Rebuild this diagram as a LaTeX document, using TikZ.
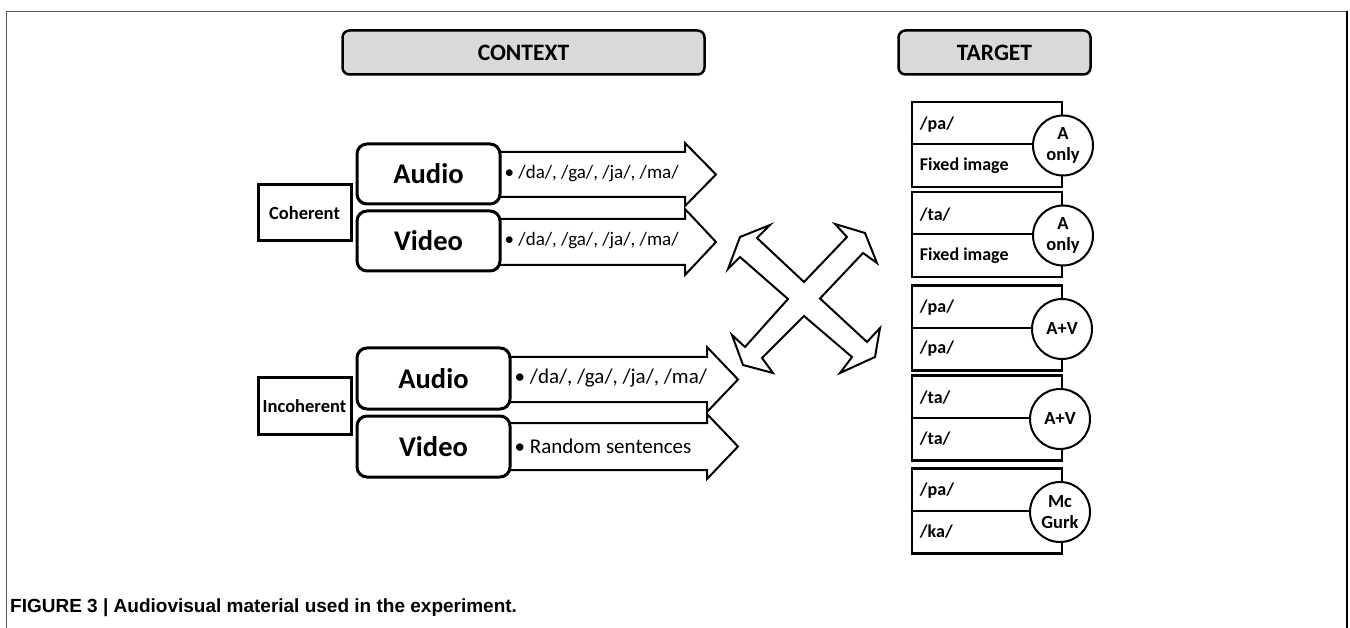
\documentclass[tikz,border=0pt]{standalone}
\usepackage{fontspec}
\setmainfont{Carlito}
\newfontfamily\capfont{Liberation Sans}
\newcommand{\fs}[1]{\fontsize{#1}{#1}\selectfont}
\begin{document}
\begin{tikzpicture}[x=1pt,y=-1pt,
  hdr/.style={draw, line width=2.5pt, rounded corners=7pt, fill=black!15, font=\bfseries\fs{23.5}, inner sep=0pt},
  cond/.style={draw, line width=3pt, fill=white, font=\bfseries\fs{18.5}, minimum width=93pt, minimum height=56pt, inner sep=0pt},
  modbox/.style={draw, line width=3pt, rounded corners=10pt, fill=white, font=\bfseries\fs{28.5}, inner sep=0pt},
  fatarrow/.style={draw, line width=2pt, fill=white, line join=miter},
  atext/.style={anchor=west, inner sep=0pt},
  tbox/.style={draw, line width=2.5pt, fill=white, minimum width=150pt, minimum height=85pt, inner sep=0pt},
  tcirc/.style={circle, draw, line width=2pt, fill=white, minimum size=60pt, inner sep=0pt, font=\bfseries\fontsize{18.5}{21}\selectfont, align=center},
  ttext/.style={anchor=west, inner sep=0pt, font=\bfseries\fs{18}},
  divline/.style={line width=2pt}
]
\useasboundingbox (0,0) rectangle (1350,628);
\fill[white] (0,0) rectangle (1350,628);
% frame
\draw[black!65, line width=1.5pt] (6.5,628) -- (6.5,11.5) -- (1347,11.5);
\draw[black, line width=2pt] (1347,11.5) -- (1347,628);

% headers
\node[hdr, minimum width=362pt, minimum height=44pt] (context) at (523.5,52.5) {CONTEXT};
\node[hdr, minimum width=192pt, minimum height=44pt] (target) at (994.5,52.5) {TARGET};

% fat arrows (drawn before boxes)
\draw[fatarrow] (490,152) -- (685,152) -- (685,143) -- (716,174.5) -- (685,206) -- (685,197) -- (490,197) -- cycle;
\draw[fatarrow] (490,219) -- (685,219) -- (685,209) -- (716,242) -- (685,275) -- (685,265) -- (490,265) -- cycle;
\draw[fatarrow] (500,357) -- (707,357) -- (707,347) -- (738,379.5) -- (707,412) -- (707,402) -- (500,402) -- cycle;
\draw[fatarrow] (500,423) -- (707,423) -- (707,414) -- (738,446.5) -- (707,479) -- (707,470) -- (500,470) -- cycle;

% condition boxes
\node[cond] (coh) at (304.5,213) {Coherent};
\node[cond] (incoh) at (304.5,406) {Incoherent};

% modality boxes
\node[modbox, minimum width=143pt, minimum height=60pt] (caudio) at (428.5,174) {Audio};
\node[modbox, minimum width=143pt, minimum height=60pt] (cvideo) at (428.5,241) {Video};
\node[modbox, minimum width=153pt, minimum height=61pt] (iaudio) at (433.5,378.5) {Audio};
\node[modbox, minimum width=153pt, minimum height=61pt] (ivideo) at (433.5,446.5) {Video};

% arrow texts
\node[atext, font=\fs{19}] (t1) at ([xshift=3pt]caudio.east) {• /da/, /ga/, /ja/, /ma/};
\node[atext, font=\fs{19}] (t2) at ([xshift=3pt]cvideo.east) {• /da/, /ga/, /ja/, /ma/};
\node[atext, font=\fs{21}] (t3) at ([xshift=3pt]iaudio.east) {• /da/, /ga/, /ja/, /ma/};
\node[atext, font=\fs{21}] (t4) at ([xshift=3pt]ivideo.east) {• Random sentences};

% four-headed cross arrow
\draw[fatarrow, line join=miter]
  (740,237) -- (770,225) -- (757,238) -- (804,282) -- (847,237) -- (835,224) -- (865,233)
  -- (877,263) -- (863,253) -- (820,298.5) -- (867,342) -- (880,328) -- (875,357)
  -- (840,373) -- (852,357) -- (804,316) -- (762,358) -- (773,373) -- (743,365)
  -- (732,335) -- (745,347) -- (788,299) -- (740,257) -- (728,269) -- cycle;

% target boxes
\foreach \i/\cy/\ta/\tb/\cx/\lab in {
  1/144.5/{/pa/}/{Fixed image}/1063/{A\\only},
  2/234.5/{/ta/}/{Fixed image}/1063/{A\\only},
  3/328/{/pa/}/{/pa/}/1062/{A+V},
  4/418/{/ta/}/{/ta/}/1060/{A+V},
  5/511/{/pa/}/{/ka/}/1060/{Mc\\Gurk}}{
  \node[tbox] (tb\i) at (987,\cy) {};
  \node[tcirc] (tc\i) at (\cx,\cy+1) {\lab};
  \draw[divline] (tb\i.west) -- (tc\i.west |- tb\i.west);
  \node[ttext] (ta\i) at ([xshift=9pt,yshift=20pt]tb\i.west) {\ta};
  \node[ttext] (tt\i) at ([xshift=9pt,yshift=-21pt]tb\i.west) {\tb};
}

% caption
\node[anchor=base west, inner sep=0pt, font=\capfont\bfseries\fs{19}] (cap) at (10,612) {FIGURE 3 | Audiovisual material used in the experiment.};
\end{tikzpicture}
\end{document}
